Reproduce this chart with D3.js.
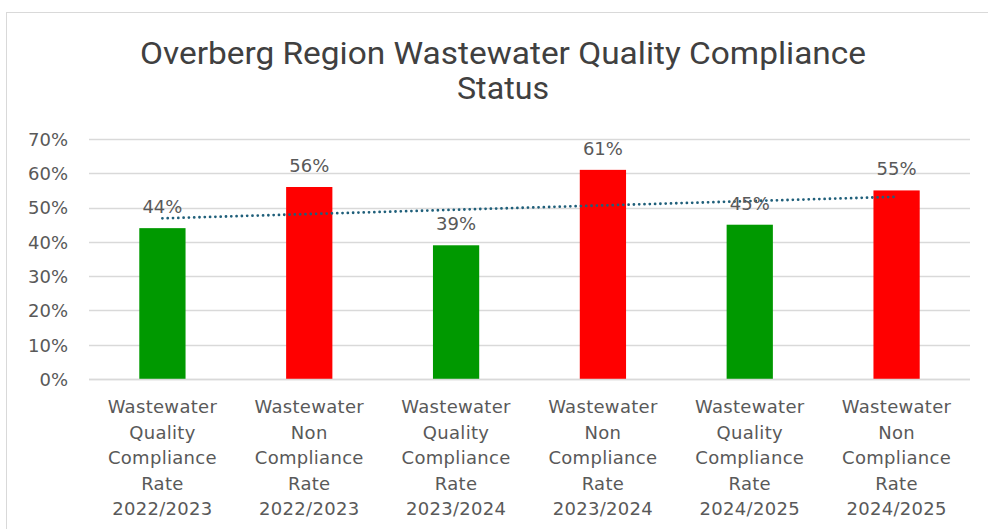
<!DOCTYPE html>
<html><head><meta charset="utf-8">
<script src="https://cdn.jsdelivr.net/npm/d3@7"></script>
<style>body{margin:0;background:#fff;}svg{display:block;}</style>
</head><body>
<svg id="c" width="988" height="529"></svg>
<script>
const categories = [
  ["Wastewater","Quality","Compliance","Rate","2022/2023"],
  ["Wastewater","Non","Compliance","Rate","2022/2023"],
  ["Wastewater","Quality","Compliance","Rate","2023/2024"],
  ["Wastewater","Non","Compliance","Rate","2023/2024"],
  ["Wastewater","Quality","Compliance","Rate","2024/2025"],
  ["Wastewater","Non","Compliance","Rate","2024/2025"]
];
const values = [0.44, 0.56, 0.39, 0.61, 0.45, 0.55];
const barColors = ["#009900","#ff0000","#009900","#ff0000","#009900","#ff0000"];
const yTicks = [0,0.1,0.2,0.3,0.4,0.5,0.6,0.7];
const titleLines = ["Overberg Region Wastewater Quality Compliance","Status"];

const svg = d3.select("#c");
const font = "'DejaVu Sans', Verdana, sans-serif";
// frame
svg.append("line").attr("x1",6).attr("x2",988).attr("y1",12.5).attr("y2",12.5).attr("stroke","#d9d9d9");
svg.append("line").attr("x1",6.5).attr("x2",6.5).attr("y1",12).attr("y2",529).attr("stroke","#d9d9d9");

const m = {left:89, right:970, top:139, bottom:379};
const x = d3.scaleBand().domain(d3.range(values.length)).range([m.left,m.right]).paddingInner(0.685).paddingOuter(0.3425);
const y = d3.scaleLinear().domain([0,0.7]).range([m.bottom,m.top]);

// title
const titleWidths = [726, 92];
svg.append("g").selectAll("text").data(titleLines).join("text")
  .attr("x",503).attr("y",(d,i)=>64+i*35).attr("text-anchor","middle")
  .attr("font-family","Roboto, sans-serif")
  .attr("font-size",31).attr("fill","#404040")
  .attr("textLength",(d,i)=>titleWidths[i]).attr("lengthAdjust","spacingAndGlyphs")
  .text(d=>d);

// gridlines
svg.append("g").selectAll("line").data(yTicks).join("line")
  .attr("x1",m.left).attr("x2",m.right).attr("y1",d=>Math.round(y(d))+0.5).attr("y2",d=>Math.round(y(d))+0.5)
  .attr("stroke","#d9d9d9").attr("stroke-width",1.5);

// y axis
const yAxis = svg.append("g").attr("transform",`translate(${m.left-21},0)`)
  .call(d3.axisLeft(y).tickValues(yTicks).tickFormat(d3.format(".0%")).tickSize(0).tickPadding(0));
yAxis.select(".domain").remove();
yAxis.selectAll("text").attr("font-family",font).attr("font-size",18).attr("fill","#595959").attr("dy","0.35em");

// bars
svg.append("g").selectAll("rect").data(values).join("rect")
  .attr("x",(d,i)=>x(i)).attr("width",x.bandwidth())
  .attr("y",d=>y(d)).attr("height",d=>y(0)-y(d))
  .attr("fill",(d,i)=>barColors[i]);

// axis baseline
svg.append("line").attr("x1",m.left).attr("x2",m.right).attr("y1",y(0)+0.5).attr("y2",y(0)+0.5).attr("stroke","#d9d9d9").attr("stroke-width",1.5);

// trendline (linear regression)
const n = values.length;
const xs = d3.range(1,n+1);
const mx = d3.mean(xs), my = d3.mean(values);
const slope = d3.sum(xs,(v,i)=>(v-mx)*(values[i]-my))/d3.sum(xs,v=>(v-mx)*(v-mx));
const icpt = my - slope*mx;
const trend = xs.map(v=>[x(v-1)+x.bandwidth()/2, y(icpt+slope*v)]);
svg.append("path").attr("d",d3.line()([trend[0],trend[n-1]]))
  .attr("stroke","#1f5f7a").attr("stroke-width",2.8).attr("stroke-dasharray","0 5.3").attr("stroke-linecap","round").attr("fill","none");

// data labels
svg.append("g").selectAll("text").data(values).join("text")
  .attr("x",(d,i)=>x(i)+x.bandwidth()/2).attr("y",d=>y(d)-15)
  .attr("text-anchor","middle").attr("font-family",font).attr("font-size",18).attr("fill","#595959")
  .text(d=>d3.format(".0%")(d));

// category labels
const cg = svg.append("g").selectAll("text").data(categories).join("text")
  .attr("x",(d,i)=>x(i)+x.bandwidth()/2).attr("y",413)
  .attr("text-anchor","middle").attr("font-family",font).attr("font-size",18).attr("fill","#595959")
  .attr("letter-spacing",0.3);
cg.selectAll("tspan").data(d=>d).join("tspan")
  .attr("x",function(){return this.parentNode.getAttribute("x");})
  .attr("dy",(d,i)=>i===0?0:25.5).text(d=>d);
</script>
</body></html>
